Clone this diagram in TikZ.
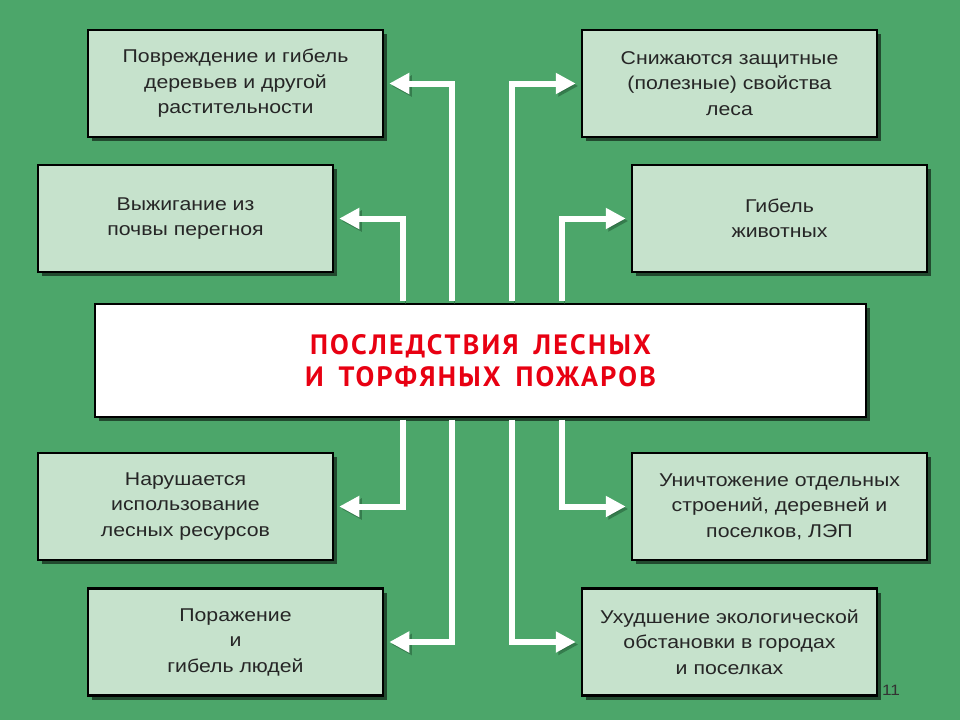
\documentclass[tikz,border=0pt]{standalone}
\usepackage{fontspec}
\setmainfont{Liberation Sans}[FakeStretch=1.15]
\newfontfamily\titlefont{PT Sans}[LetterSpace=8,WordSpace=1.6]
\usetikzlibrary{arrows.meta,shadows}
\definecolor{bggreen}{RGB}{76,166,106}
\definecolor{boxgreen}{RGB}{198,226,204}
\definecolor{shadegreen}{RGB}{38,96,58}
\definecolor{titlered}{RGB}{232,0,18}
\begin{document}
\begin{tikzpicture}[x=1pt,y=-1pt,
  box/.style={draw=black,line width=2.5pt,fill=boxgreen,
    minimum width=295pt,minimum height=107pt,inner sep=0pt,align=center,
    font=\fontsize{18.5}{25.5}\selectfont,text=black!85,
    drop shadow={shadow xshift=4pt,shadow yshift=-4pt,fill=black,opacity=.55}},
  arr/.style={draw=white,line width=6pt,-{Triangle[length=20pt,width=20pt]},
    shorten >=5pt,
    preaction={draw=shadegreen,opacity=.6,transform canvas={shift={(2.5pt,-2.5pt)}}}}]

\fill[bggreen] (0,0) rectangle (960,720);
\useasboundingbox (0,0) rectangle (960,720);

\node[box](damage) at(235.5,83.5) {Повреждение и гибель\\деревьев и другой\\растительности};
\node[box](humus) at(185.5,218.5) {Выжигание из\\почвы перегноя};
\node[box](usage) at(185.5,506.5) {Нарушается\\использование\\лесных ресурсов};
\node[box](people) at(235.5,642) {Поражение\\и\\гибель людей};
\node[box](protect) at(729.5,83.5) {Снижаются защитные\\(полезные) свойства\\леса};
\node[box](animals) at(779.5,218.5) {Гибель\\животных};
\node[box](houses) at(779.5,506.5) {Уничтожение отдельных\\строений, деревней и\\поселков, ЛЭП};
\node[box](ecology) at(729.5,642) {Ухудшение экологической\\обстановки в городах\\и поселках};

\node[box,fill=white,minimum width=771pt,minimum height=113pt,
  font=\titlefont\bfseries\fontsize{28}{32}\selectfont,text=titlered](fires) at(480.5,360.5)
  {ПОСЛЕДСТВИЯ ЛЕСНЫХ\\И ТОРФЯНЫХ ПОЖАРОВ};

\draw[arr] ([xshift=-28.5pt,yshift=1.3pt]fires.north) |- (damage.east);
\draw[arr] ([xshift=-77.5pt,yshift=1.3pt]fires.north) |- (humus.east);
\draw[arr] ([xshift=31.5pt,yshift=1.3pt]fires.north) |- (protect.west);
\draw[arr] ([xshift=81.5pt,yshift=1.3pt]fires.north) |- (animals.west);

\draw[arr] ([xshift=-77.5pt,yshift=-1.3pt]fires.south) |- (usage.east);
\draw[arr] ([xshift=-28.5pt,yshift=-1.3pt]fires.south) |- (people.east);
\draw[arr] ([xshift=31.5pt,yshift=-1.3pt]fires.south) |- (ecology.west);
\draw[arr] ([xshift=81.5pt,yshift=-1.3pt]fires.south) |- (houses.west);

\node[font=\fontsize{15}{15}\selectfont,text=black!80](page) at(891,690) {11};

\end{tikzpicture}
\end{document}
